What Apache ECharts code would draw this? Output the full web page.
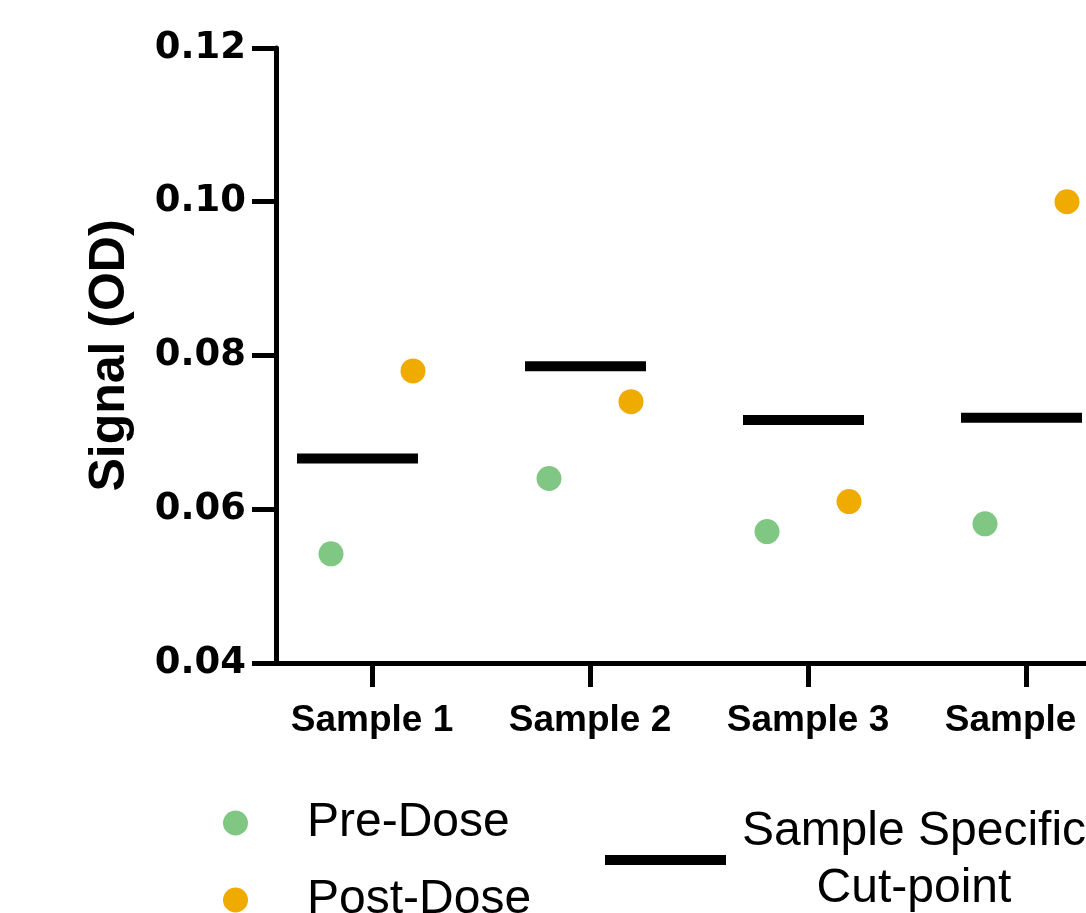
<!DOCTYPE html>
<html>
<head>
<meta charset="utf-8">
<script src="https://cdn.jsdelivr.net/npm/echarts@6/dist/echarts.min.js"></script>
<style>html,body{margin:0;padding:0;background:#fff;}#c{width:1086px;height:913px;}</style>
</head>
<body>
<div id="c"></div>
<script>
const categories = ['Sample 1', 'Sample 2', 'Sample 3', 'Sample 4'];
const preDose = [0.0542, 0.0640, 0.0571, 0.0581];
const postDose = [0.0780, 0.0740, 0.0610, 0.1000];
const cutPoint = [0.0666, 0.0786, 0.0716, 0.0719];
const yTicks = [0.04, 0.06, 0.08, 0.10, 0.12];

const FONT = "'Liberation Sans', Arial, Helvetica, sans-serif";
const chart = echarts.init(document.getElementById('c'), null, {renderer: 'canvas'});

const cutOffsets = [-14.5, -4.5, -4.5, -4.5];

chart.setOption({
  animation: false,
  backgroundColor: '#ffffff',
  grid: {left: 263, width: 872, top: 48, height: 615, containLabel: false, outerBoundsMode: 'none'},
  xAxis: {
    type: 'category',
    data: categories,
    boundaryGap: true,
    axisLine: {show: true, lineStyle: {color: '#000', width: 5}},
    axisTick: {show: true, alignWithLabel: true, length: 24, lineStyle: {color: '#000', width: 5}},
    axisLabel: {color: '#000', fontFamily: FONT, fontWeight: 'bold', fontSize: 37, margin: 39, interval: 0},
    splitLine: {show: false}
  },
  yAxis: {
    type: 'value',
    min: yTicks[0],
    max: yTicks[yTicks.length - 1],
    interval: 0.02,
    offset: -13,
    name: 'Signal (OD)',
    nameLocation: 'middle',
    nameGap: 141,
    nameRotate: 90,
    nameTextStyle: {color: '#000', fontFamily: FONT, fontWeight: 'bold', fontSize: 50},
    axisLine: {show: true, lineStyle: {color: '#000', width: 5}},
    axisTick: {show: true, length: 24, lineStyle: {color: '#000', width: 5}},
    axisLabel: {color: '#000', fontFamily: "'DejaVu Sans', sans-serif", fontWeight: 'bold', fontSize: 37, margin: 30,
      formatter: v => v.toFixed(2)},
    splitLine: {show: false}
  },
  legend: [
    {
      data: ['Pre-Dose', 'Post-Dose'],
      orient: 'vertical',
      left: 218,
      top: 793,
      height: 300,
      itemWidth: 25,
      itemHeight: 25,
      itemGap: 27,
      icon: 'circle',
      selectedMode: false,
      textStyle: {color: '#000', fontFamily: FONT, fontSize: 48, lineHeight: 50, padding: [0, 0, 0, 54]}
    },
    {
      data: ['Sample Specific Cut-point'],
      orient: 'horizontal',
      left: 600,
      top: 798,
      itemWidth: 121,
      itemHeight: 10,
      icon: 'rect',
      selectedMode: false,
      formatter: () => '{t|Sample Specific}\n{t|Cut-point}',
      textStyle: {
        color: '#000', fontFamily: FONT, fontSize: 48, lineHeight: 57, padding: [0, 0, 0, 8],
        rich: {t: {width: 350, align: 'center', color: '#000', fontFamily: FONT, fontSize: 48, lineHeight: 57}}
      }
    }
  ],
  series: [
    {
      name: 'Pre-Dose',
      type: 'scatter',
      data: preDose,
      symbol: 'circle',
      symbolSize: 25,
      symbolOffset: [-41, 0],
      itemStyle: {color: '#81C784', opacity: 1},
      z: 3
    },
    {
      name: 'Post-Dose',
      type: 'scatter',
      data: postDose,
      symbol: 'circle',
      symbolSize: 25,
      symbolOffset: [41, 0],
      itemStyle: {color: '#F0AB00', opacity: 1},
      z: 3
    },
    {
      name: 'Sample Specific Cut-point',
      type: 'scatter',
      data: cutPoint.map((v, i) => ({value: v, symbolOffset: [cutOffsets[i], 0]})),
      symbol: 'rect',
      symbolSize: [121, 10],
      itemStyle: {color: '#000', opacity: 1},
      z: 2
    }
  ]
});
</script>
</body>
</html>
